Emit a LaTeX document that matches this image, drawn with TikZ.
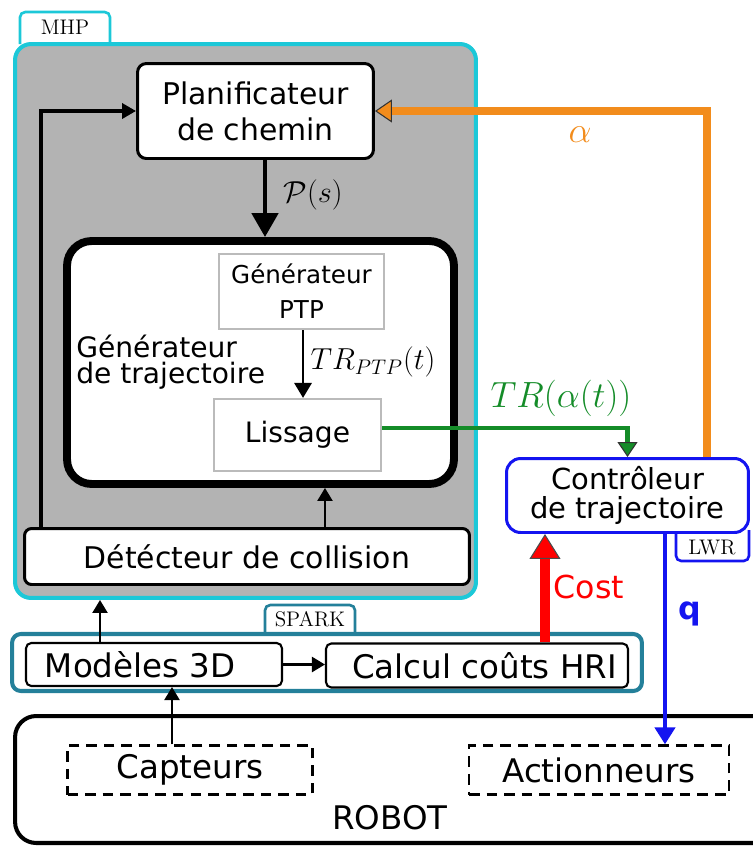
\documentclass[tikz,border=0pt]{standalone}
\usepackage{fontspec}
\newfontfamily\dejavu{DejaVu Sans}
\usepackage{tikz}
\usetikzlibrary{arrows.meta,calc,positioning}
\definecolor{mhpcyan}{RGB}{28,200,216}
\definecolor{mhpgray}{RGB}{179,179,179}
\definecolor{subgray}{RGB}{187,187,187}
\definecolor{alphaorange}{RGB}{242,140,28}
\definecolor{trajgreen}{RGB}{20,140,40}
\definecolor{lwrblue}{RGB}{20,20,240}
\definecolor{sparkteal}{RGB}{36,128,154}
\tikzset{
  block/.style={
    rectangle,
    rounded corners=5pt,
    draw=black,
    fill=white,
    line width=1.7pt,
    inner sep=0pt,
    align=center,
    font=\dejavu\fontsize{17}{20.5}\selectfont
  },
  mhpbox/.style={
    rectangle,
    rounded corners=9pt,
    draw=mhpcyan,
    fill=mhpgray,
    line width=2.3pt,
    minimum width=9.22cm,
    minimum height=11.08cm
  },
  trajbox/.style={
    rectangle,
    rounded corners=14pt,
    draw=black,
    fill=white,
    line width=4.5pt,
    minimum width=7.74cm,
    minimum height=4.86cm
  },
  subblock/.style={
    rectangle,
    draw=subgray,
    fill=white,
    line width=1.2pt,
    inner sep=0pt,
    align=center
  },
  ctrlblock/.style={
    rectangle,
    rounded corners=8pt,
    draw=lwrblue,
    fill=white,
    line width=1.7pt,
    inner sep=0pt,
    align=center,
    minimum width=4.84cm,
    minimum height=1.48cm,
    font=\dejavu\fontsize{16.5}{16.5}\selectfont
  },
  sparkbox/.style={
    rectangle,
    rounded corners=5pt,
    draw=sparkteal,
    fill=white,
    line width=2.3pt,
    minimum width=12.6cm,
    minimum height=1.14cm
  },
  smallblock/.style={
    rectangle,
    rounded corners=3pt,
    draw=black,
    fill=white,
    line width=1.2pt,
    inner sep=0pt,
    minimum height=0.86cm,
    font=\dejavu\fontsize{18.5}{20}\selectfont
  },
  robotbox/.style={
    rectangle,
    rounded corners=12pt,
    draw=black,
    line width=2.3pt,
    minimum width=15.7cm,
    minimum height=2.54cm
  },
  dashblock/.style={
    rectangle,
    draw=black,
    dash pattern=on 6pt off 4pt,
    line width=1.3pt,
    inner sep=0pt,
    minimum height=0.98cm,
    font=\dejavu\fontsize{18.5}{20}\selectfont
  },
  tabline/.style={
    draw=#1,
    line width=1.5pt,
    rounded corners=3pt
  },
  tablabel/.style={
    font=\fontsize{12}{14}\selectfont,
    inner sep=0pt
  },
  mathlabel/.style={
    font=\fontsize{19}{21}\selectfont,
    inner sep=0pt
  },
  mainarrow/.style={
    line width=2.8pt,
    -{Triangle[length=0.48cm,width=0.52cm]}
  },
  midarrow/.style={
    line width=1.7pt,
    -{Triangle[length=0.3cm,width=0.34cm]}
  },
  connection/.style={
    line width=1.3pt,
    -{Triangle[length=0.26cm,width=0.3cm]}
  },
  feedback/.style={
    line width=2.3pt,
    -{Triangle[length=0.28cm,width=0.3cm]}
  },
  trajsignal/.style={
    draw=trajgreen,
    line width=2.3pt,
    -{Triangle[length=0.3cm,width=0.4cm,line width=0.6pt,fill=trajgreen,color=black!80]}
  },
  alphaline/.style={
    draw=alphaorange,
    line width=4pt,
    -{Triangle[length=0.34cm,width=0.46cm,line width=0.6pt,fill=alphaorange,color=black!80]}
  },
  qline/.style={
    draw=lwrblue,
    line width=2.8pt,
    -{Triangle[length=0.34cm,width=0.4cm]}
  },
  costline/.style={
    draw=red,
    line width=5.5pt,
    -{Triangle[length=0.5cm,width=0.62cm,line width=0.6pt,fill=red,color=black!70]}
  }
}

\begin{document}
\begin{tikzpicture}[x=0.02cm, y=-0.02cm]
  \useasboundingbox (0,0) rectangle (752,846);

  % ------------------------------------------------------------------
  % MHP
  % ------------------------------------------------------------------
  \draw[tabline=mhpcyan, fill=white] (20,44) -- (20,12) -- (110,12) -- (110,44);
  \node[tablabel] (mhplabel) at (65,27) {MHP};
  \node[mhpbox] (mhp) at (245.5,321) {};

  \node[block, minimum width=4.72cm, minimum height=1.9cm] (plan) at (255.5,111)
    {Planificateur\\de chemin};

  \node[trajbox] (traj) at (260.5,362.5) {};
  \node[anchor=west, align=left, inner sep=0pt,
    font=\dejavu\fontsize{16}{15}\selectfont] (trajlabel) at (76,362)
    {Générateur\\de trajectoire};

  \node[subblock, minimum width=3.3cm, minimum height=1.5cm,
    font=\dejavu\fontsize{14}{20}\selectfont] (ptp) at (301.5,291.5)
    {Générateur\\PTP};
  \node[subblock, minimum width=3.34cm, minimum height=1.44cm,
    font=\dejavu\fontsize{16}{18}\selectfont] (liss) at (297.5,435) {Lissage};

  \node[block, rounded corners=4pt, minimum width=8.9cm, minimum height=1.12cm]
    (det) at (247,556.5) {Détécteur de collision};

  % ------------------------------------------------------------------
  % LWR
  % ------------------------------------------------------------------
  \draw[tabline=lwrblue] (676,530) -- (676,561) -- (749,561) -- (749,530);
  \node[tablabel] (lwrlabel) at (712,548) {LWR};
  \node[ctrlblock] (ctrl) at (627.5,495.5) {Contrôleur\\de trajectoire};

  % ------------------------------------------------------------------
  % SPARK
  % ------------------------------------------------------------------
  \draw[tabline=sparkteal] (265,636) -- (265,605) -- (355,605) -- (355,636);
  \node[tablabel] (sparklabel) at (310,619) {SPARK};
  \node[sparkbox] (spark) at (327,662.5) {};
  \node[smallblock, minimum width=5.12cm] (mod) at (154,664.5)
    {Modèles 3D\hspace*{0.55cm}};
  \node[smallblock, minimum width=6.04cm, minimum height=0.88cm] (calc) at (477,665.5)
    {\hspace*{0.3cm}Calcul coûts HRI};

  % ------------------------------------------------------------------
  % ROBOT
  % ------------------------------------------------------------------
  \node[robotbox] (robot) at (407.5,779.5) {};
  \node[font=\dejavu\fontsize{18.5}{20}\selectfont, inner sep=0pt] (robotlabel)
    at (390,818) {ROBOT};
  \node[dashblock, minimum width=4.9cm] (capt) at (190,770) {Capteurs};
  \node[dashblock, minimum width=5.2cm] (act) at (599,770) {Actionneurs};

  % ------------------------------------------------------------------
  % Connections
  % ------------------------------------------------------------------
  \draw[mainarrow] ([xshift=0.19cm]plan.south) coordinate (ps) -- (ps |- traj.north);
  \node[mathlabel] (pslabel) at (313,195) {$\mathcal{P}(s)$};

  \draw[midarrow] ([xshift=0.03cm]ptp.south) coordinate (pt) -- (pt |- liss.north);
  \node[mathlabel, font=\fontsize{17}{20}\selectfont] (ptplabel) at (373,362)
    {$TR_{PTP}(t)$};

  \draw[connection] ([xshift=1.56cm]det.north) coordinate (ds) -- (ds |- traj.south);
  \draw[feedback] ([xshift=-4.12cm]det.north) |- (plan.west);

  \draw[trajsignal] ([yshift=0.14cm]liss.east) -| (ctrl.north);
  \node[mathlabel, text=trajgreen, font=\fontsize{19.5}{21}\selectfont] (trlabel)
    at (561,398) {$TR(\alpha(t))$};

  \draw[alphaline] ([xshift=1.59cm]ctrl.north) |- (plan.east);
  \node[mathlabel, text=alphaorange, font=\fontsize{20}{22}\selectfont] (alphalabel)
    at (580,135) {$\alpha$};

  \draw[qline] ([xshift=0.75cm]ctrl.south) coordinate (qs) -- (qs |- act.north);
  \node[text=lwrblue, inner sep=0pt, font=\dejavu\bfseries\fontsize{18}{20}\selectfont]
    (qlabel) at (690,614) {q};

  \draw[costline] ([xshift=1.36cm]calc.north) coordinate (cs) -- (cs |- ctrl.south);
  \node[text=red, inner sep=0pt, font=\dejavu\fontsize{18}{20}\selectfont]
    (costlabel) at (589,587) {Cost};

  \draw[connection] ([xshift=-1.08cm]mod.north) coordinate (ms) -- (ms |- mhp.south);
  \draw[connection] (mod.east) -- (mod.east -| calc.west);
  \draw[connection] ([xshift=-0.36cm]capt.north) coordinate (cp) -- (cp |- mod.south);
\end{tikzpicture}
\end{document}
